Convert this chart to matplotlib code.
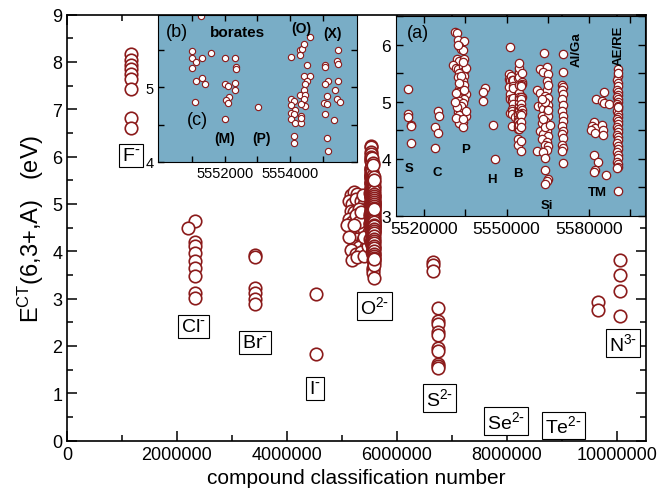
import matplotlib
matplotlib.use('Agg')
import matplotlib.pyplot as plt
from matplotlib.ticker import MultipleLocator, FixedLocator, FuncFormatter

plt.rcParams['font.family'] = ['Liberation Sans', 'DejaVu Sans']
plt.rcParams['mathtext.default'] = 'regular'

RED = '#8B1A1A'
BG = '#79ADC6'

# ---- main chart data (x in units of classification number) ----
f_x = [1.17e6] * 9
f_y = [8.16, 8.03, 7.94, 7.84, 7.75, 7.64, 7.43, 6.82, 6.60]

cl_x = [2.32e6, 2.21e6, 2.32e6, 2.32e6, 2.32e6, 2.32e6, 2.32e6, 2.32e6, 2.32e6, 2.32e6]
cl_y = [4.64, 4.49, 4.19, 4.11, 3.96, 3.80, 3.64, 3.48, 3.12, 3.01]

br_x = [3.42e6] * 6
br_y = [3.93, 3.87, 3.23, 3.11, 3.00, 2.88]

i_x = [4.53e6, 4.53e6]
i_y = [3.10, 1.83]

s_x = [6.65e6, 6.65e6, 6.65e6] + [6.75e6] * 10
s_y = [3.78, 3.70, 3.59, 2.80, 2.52, 2.47, 2.29, 2.23, 1.95, 1.90, 1.62, 1.57, 1.53]

n_x = [9.66e6, 9.66e6, 10.06e6, 10.06e6, 10.06e6, 10.06e6]
n_y = [2.93, 2.76, 3.81, 3.49, 3.16, 2.63]

# oxides outside the 55xxxxx block (left part of the O cluster), in millions
oxl_x = [5.16, 5.22, 5.28, 5.13, 5.19, 5.25, 5.35, 5.41, 5.44, 5.16, 5.22, 5.32, 5.38,
         5.13, 5.19, 5.28, 5.35, 5.44, 5.16, 5.25, 5.32, 5.41, 5.19, 5.28, 5.38, 5.22,
         5.32, 5.44, 5.16, 5.25, 5.35, 5.19, 5.28, 5.41, 5.47, 5.47, 5.50, 5.10, 5.13,
         5.38, 5.25, 5.32, 5.22, 5.41, 5.35]
oxl_y = [5.18, 5.25, 5.22, 5.07, 5.00, 5.11, 5.07, 5.00, 4.90, 4.86, 4.83, 4.90, 4.79,
         4.69, 4.62, 4.69, 4.58, 4.55, 4.48, 4.44, 4.41, 4.48, 4.30, 4.26, 4.23, 4.12,
         4.09, 4.09, 4.02, 3.95, 3.98, 3.81, 3.88, 3.91, 4.12, 4.76, 4.41, 4.55, 4.30,
         5.18, 4.76, 4.62, 4.55, 4.30, 4.83]

# ---- inset (a): 55xxxxx oxides by group ----
sg_x = [5514200, 5513900, 5513900, 5515300, 5515000, 5515000]
sg_y = [5.23, 4.78, 4.74, 4.59, 4.58, 4.27]

cg_x = [5525100, 5525350, 5523890, 5525100, 5523770]
cg_y = [4.84, 4.75, 4.55, 4.46, 4.19]

pg_x = [5531190, 5531920, 5532290, 5534590, 5532770, 5533380, 5533990, 5531920, 5532770,
        5534590, 5530580, 5531560, 5532160, 5533990, 5534590, 5532770, 5534590, 5532160,
        5533990, 5534590, 5532770, 5532160, 5533990, 5532770, 5535200, 5534590, 5532770,
        5533990, 5533380, 5532160, 5533380, 5534590, 5535200, 5532770, 5532160, 5533990,
        5532770, 5533990, 5531560, 5535200, 5531560, 5535200, 5533380, 5531920, 5534590,
        5532770, 5533990, 5531190, 5534000, 5532160]
pg_y = [6.23, 6.20, 6.09, 6.06, 5.98, 5.92, 5.91, 5.75, 5.71, 5.75, 5.64, 5.60, 5.57,
        5.63, 5.54, 5.51, 5.45, 5.44, 5.36, 5.30, 5.22, 5.17, 5.16, 5.07, 5.13, 5.04,
        5.01, 4.97, 4.92, 4.82, 4.81, 4.78, 4.75, 4.76, 4.69, 4.64, 4.62, 4.56, 4.72,
        4.84, 5.15, 5.60, 5.45, 4.90, 5.20, 5.33, 4.70, 5.00, 5.70, 6.00]

hg_x = [5542250, 5541280, 5541280, 5544920, 5545890]
hg_y = [5.25, 5.17, 5.02, 4.59, 3.99]

# borates, also shown enlarged in inset (b)
borate_x = [5551273, 5550976, 5550976, 5551109, 5551283, 5550976, 5551099, 5551283,
            5551386, 5551078, 5551581,
            5552002, 5552299, 5552330, 5552340, 5552002, 5552094, 5552299, 5552299,
            5552114, 5552022, 5552094, 5552002,
            5553017,
            5554042, 5554319, 5554370, 5554422, 5554627, 5554319, 5554524, 5554422,
            5554627, 5554524, 5554452, 5554422, 5554319, 5554452, 5554042, 5554114,
            5554422, 5554452, 5554350, 5554042, 5554145, 5554042, 5554114, 5554350,
            5554042, 5554145, 5554350, 5554350, 5554114, 5554114,
            5555488, 5555458, 5555478, 5555068, 5555068, 5555478, 5555171, 5555068,
            5555376, 5555140, 5555448, 5555530, 5555037, 5555140, 5555068, 5555345,
            5555140, 5555171]
borate_y = [5.96, 5.49, 5.40, 5.34, 5.39, 5.26, 5.09, 5.13, 5.04, 4.81, 5.46,
            5.39, 5.39, 5.28, 5.25, 5.04, 5.02, 5.06, 4.96, 4.87, 4.83, 4.79, 4.58,
            4.74,
            5.41, 5.50, 5.52, 5.59, 5.68, 5.43, 5.30, 5.15, 5.16, 5.08, 5.04, 4.97,
            4.90, 4.90, 4.84, 4.82, 4.84, 4.75, 4.77, 4.76, 4.70, 4.66, 4.64, 4.61,
            4.57, 4.52, 4.52, 4.59, 4.34, 4.25,
            5.51, 5.35, 5.32, 5.30, 5.27, 5.08, 5.08, 5.05, 4.96, 4.89, 4.85, 4.81,
            4.79, 4.77, 4.64, 4.56, 4.32, 4.14]

sig_x = [5563630, 5562170, 5564600, 5563390, 5565210, 5564600, 5560960, 5562170, 5564600,
         5564000, 5565210, 5561570, 5562780, 5563390, 5565210, 5564600, 5562780, 5565210,
         5564000, 5562780, 5565210, 5562170, 5564600, 5563390, 5565210, 5562780, 5564600,
         5564000, 5565210, 5560960, 5564600, 5563390, 5564000, 5564000, 5565210, 5564600,
         5564000, 5565210, 5564000, 5563390, 5565210, 5564000, 5562780, 5565820]
sig_y = [5.86, 5.57, 5.61, 5.52, 5.48, 5.36, 5.20, 5.16, 5.20, 5.10, 5.07, 4.92, 4.95,
         4.87, 4.95, 4.81, 4.75, 4.75, 4.66, 4.63, 4.57, 4.49, 4.49, 4.43, 4.40, 4.34,
         4.29, 4.25, 4.22, 4.13, 4.16, 4.11, 4.02, 3.81, 3.65, 3.61, 3.55, 5.30, 5.00,
         4.70, 4.85, 4.55, 5.05, 4.60]

alga_x = [5570440, 5570440, 5570070, 5570440, 5570070, 5570680, 5570070, 5570440, 5570070,
          5570680, 5570440, 5570070, 5570680, 5570070, 5570440, 5570070, 5570680, 5570070,
          5570440]
alga_y = [5.83, 5.52, 5.30, 5.26, 5.20, 5.13, 5.04, 4.95, 4.84, 4.75, 4.66, 4.57, 4.49,
          4.43, 4.37, 4.25, 4.19, 4.13, 3.93]

tm_x = [5582460, 5585620, 5584890, 5585620, 5587320, 5581860, 5581010, 5582220, 5580760,
        5582220, 5584890, 5585260, 5585260, 5581980, 5583190, 5582220, 5581980, 5586110]
tm_y = [5.05, 5.17, 5.02, 4.97, 4.96, 4.64, 4.58, 4.54, 4.51, 4.46, 4.60, 4.51, 4.41,
        4.06, 3.94, 3.81, 3.77, 3.71]

aere_x = [5590700, 5590400, 5590100, 5590700, 5590400, 5590100, 5590700, 5590400,
          5590100, 5590700, 5590400, 5590100, 5590700, 5590400, 5590100, 5590700,
          5590400, 5590100, 5590700, 5590400, 5590100, 5590700, 5590400, 5590100,
          5590700, 5590400, 5590100, 5590700, 5590400, 5590100, 5590700, 5590400,
          5590100, 5590700, 5590400, 5590100, 5590700, 5590400, 5590400]
aere_y = [5.57, 5.46, 5.38, 5.33, 5.27, 5.21, 5.17, 5.12, 5.09, 5.04, 4.99, 4.96, 4.92,
          4.87, 4.83, 4.78, 4.74, 4.70, 4.66, 4.61, 4.56, 4.53, 4.47, 4.42, 4.38, 4.33,
          4.27, 4.22, 4.17, 4.12, 4.07, 4.01, 3.95, 3.90, 3.86, 3.83, 5.50, 4.90, 3.44]

ins_x = sg_x + cg_x + pg_x + hg_x + borate_x + sig_x + alga_x + tm_x + aere_x
ins_y = sg_y + cg_y + pg_y + hg_y + borate_y + sig_y + alga_y + tm_y + aere_y

labels = [r'F$^{\text{-}}$', r'Cl$^{\text{-}}$', r'Br$^{\text{-}}$', r'I$^{\text{-}}$',
          r'O$^{2\text{-}}$', r'S$^{2\text{-}}$', r'Se$^{2\text{-}}$', r'Te$^{2\text{-}}$',
          r'N$^{3\text{-}}$']
label_x = [1.17e6, 2.30e6, 3.42e6, 4.51e6, 5.59e6, 6.78e6, 7.99e6, 9.03e6, 10.12e6]
label_y = [6.03, 2.42, 2.08, 1.11, 2.85, 0.90, 0.42, 0.32, 2.06]

fig = plt.figure(figsize=(6.6, 5.02), dpi=100)
ax = fig.add_axes([0.1015, 0.1201, 0.877, 0.849])

mk = dict(ls='none', marker='o', mfc='white', mec=RED, ms=9, mew=1.2)
ax.plot(f_x, f_y, **mk)
ax.plot(cl_x, cl_y, **mk)
ax.plot(br_x, br_y, **mk)
ax.plot(i_x, i_y, **mk)
ax.plot([v * 1e6 for v in oxl_x], oxl_y, **mk)
ax.plot(ins_x, ins_y, **mk)
ax.plot(s_x, s_y, **mk)
ax.plot(n_x, n_y, **mk)

for t, x, y in zip(labels, label_x, label_y):
    ax.text(x, y, t, fontsize=14, ha='center', va='center', zorder=5,
            bbox=dict(boxstyle='square,pad=0.15', fc='white', ec='black', lw=0.8))

ax.set_xlim(0, 10.53e6)
ax.set_ylim(0, 9)
ax.xaxis.set_major_locator(MultipleLocator(2e6))
ax.xaxis.set_minor_locator(MultipleLocator(1e6))
ax.yaxis.set_major_locator(MultipleLocator(1))
ax.yaxis.set_minor_locator(MultipleLocator(0.5))
ax.xaxis.set_major_formatter(FuncFormatter(lambda v, p: '%d' % v))
ax.tick_params(which='both', direction='in', top=True, right=True, labelsize=13)
ax.tick_params(which='major', length=7, width=1.1)
ax.tick_params(which='minor', length=4, width=1.1)
for sp in ax.spines.values():
    sp.set_linewidth(1.2)
ax.set_xlabel('compound classification number', fontsize=15, labelpad=4)
ax.set_ylabel(r'E$^{CT}$(6,3+,A)   (eV)', fontsize=17, labelpad=4)

# ---- inset (a) ----
axa = fig.add_axes([0.6, 0.5683, 0.3773, 0.3972])
axa.set_facecolor(BG)
axa.plot(ins_x, ins_y, ls='none', marker='o', mfc='white', mec=RED, ms=6, mew=0.9)
axa.set_xlim(5509700, 5600400)
axa.set_ylim(3, 6.5)
axa.xaxis.set_major_locator(FixedLocator([5520000, 5550000, 5580000]))
axa.xaxis.set_minor_locator(FixedLocator([5535000, 5565000, 5595000]))
axa.yaxis.set_major_locator(MultipleLocator(1))
axa.yaxis.set_minor_locator(MultipleLocator(0.5))
axa.xaxis.set_major_formatter(FuncFormatter(lambda v, p: '%d' % v))
axa.tick_params(which='both', direction='in', top=True, right=True, labelsize=12.5)
axa.tick_params(which='major', length=5, width=1)
axa.tick_params(which='minor', length=5, width=1)
axa.text(0.09, 0.92, '(a)', transform=axa.transAxes, fontsize=13, ha='center', va='center')
grp = [('S', 0.053, 0.239), ('C', 0.167, 0.217), ('P', 0.280, 0.334), ('H', 0.384, 0.184),
       ('B', 0.491, 0.213), ('Si', 0.605, 0.054), ('TM', 0.808, 0.118)]
for t, fx, fy in grp:
    axa.text(fx, fy, t, transform=axa.transAxes, fontsize=9.5, fontweight='bold',
             ha='center', va='center')
axa.text(0.724, 0.838, 'Al/Ga', transform=axa.transAxes, fontsize=9.5, fontweight='bold',
         rotation=90, ha='center', va='center')
axa.text(0.893, 0.856, 'AE/RE', transform=axa.transAxes, fontsize=9.5, fontweight='bold',
         rotation=90, ha='center', va='center')

# ---- inset (b): borates ----
axb = fig.add_axes([0.2394, 0.676, 0.3015, 0.2928])
axb.set_facecolor(BG)
axb.plot(borate_x, borate_y, ls='none', marker='o', mfc='white', mec=RED, ms=4.5, mew=0.8)
axb.set_xlim(5549940, 5556060)
axb.set_ylim(4, 5.98)
axb.xaxis.set_major_locator(FixedLocator([5552000, 5554000]))
axb.xaxis.set_minor_locator(FixedLocator([5551000, 5553000, 5555000]))
axb.yaxis.set_major_locator(FixedLocator([4, 5]))
axb.yaxis.set_minor_locator(FixedLocator([4.5, 5.5]))
axb.xaxis.set_major_formatter(FuncFormatter(lambda v, p: '%d' % v))
axb.tick_params(which='both', direction='in', top=True, right=True, labelsize=10.5,
                pad=3)
axb.tick_params(which='major', length=4, width=1)
axb.tick_params(which='minor', length=4, width=1)
axb.text(0.097, 0.884, '(b)', transform=axb.transAxes, fontsize=13, ha='center', va='center')
axb.text(0.197, 0.284, '(c)', transform=axb.transAxes, fontsize=13, ha='center', va='center')
for t, fx, fy, fs in [('borates', 0.402, 0.884, 11), ('(O)', 0.72, 0.907, 10),
                      ('(X)', 0.879, 0.873, 10), ('(M)', 0.335, 0.159, 10),
                      ('(P)', 0.519, 0.159, 10)]:
    axb.text(fx, fy, t, transform=axb.transAxes, fontsize=fs, fontweight='bold',
             ha='center', va='center')

fig.savefig('out.png', dpi=100)
